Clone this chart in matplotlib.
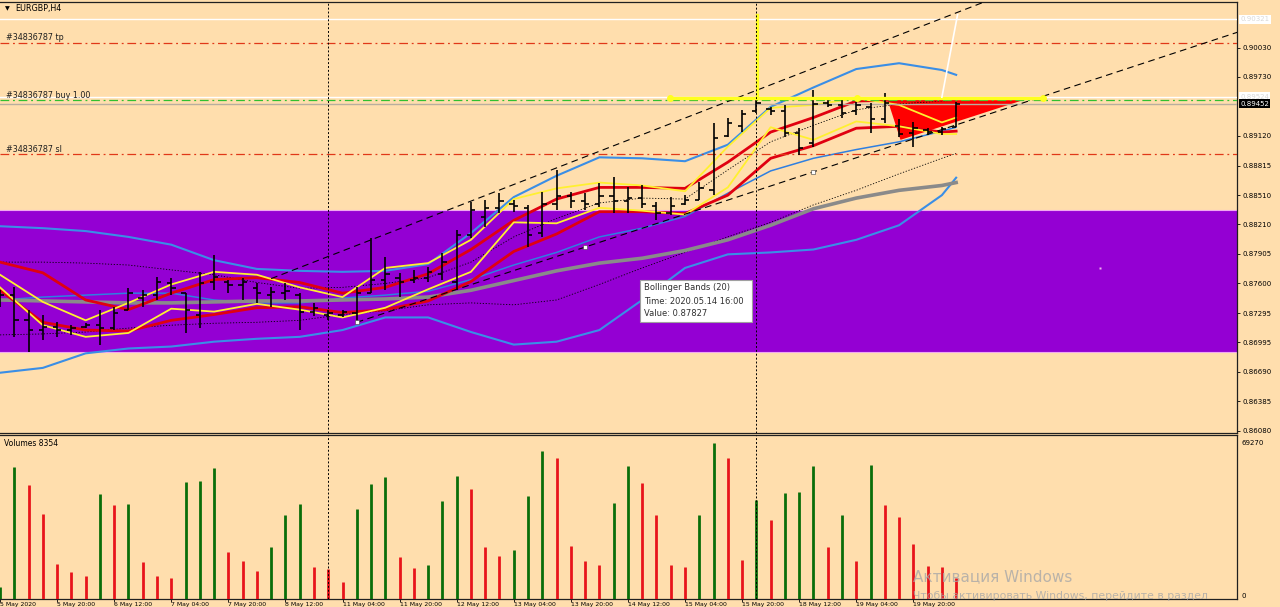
import matplotlib
matplotlib.use('Agg')
import numpy as np
import matplotlib.pyplot as plt
from matplotlib.patches import Rectangle, Polygon

W, H = 1280, 607
BG = '#FFDEAD'

# EURGBP H4, bar 0 = 5 May 2020 04:00
opens = [.8740, .8748, .8722, .8712, .8715, .8712, .8715, .8717, .8714, .8733,
         .8745, .8748, .8760, .8750, .8728, .8762, .8762, .8758, .8755, .8748,
         .8750, .8748, .8731, .8728, .8728, .8730, .8750, .8764, .8766, .8764,
         .8766, .8770, .8762, .8810, .8828, .8838, .8842, .8838, .8812, .8842,
         .8850, .8845, .8842, .8850, .8845, .8848, .8840, .8833, .8842, .8846,
         .8856, .8912, .8922, .8938, .8940, .8938, .8915, .8905, .8946, .8944,
         .8938, .8942, .8930, .8922, .8915, .8918, .8916, .8921]
highs = [.8753, .8756, .8733, .8728, .8720, .8717, .8719, .8733, .8736, .8755,
         .8753, .8767, .8766, .8750, .8772, .8789, .8764, .8766, .8761, .8756,
         .8761, .8750, .8740, .8733, .8733, .8756, .8807, .8787, .8771, .8774,
         .8777, .8791, .8815, .8844, .8846, .8853, .8846, .8841, .8854, .8877,
         .8854, .8853, .8864, .8870, .8859, .8861, .8844, .8849, .8851, .8865,
         .8925, .8931, .8939, .8951, .8942, .8944, .8920, .8959, .8951, .8949,
         .8947, .8946, .8956, .8930, .8926, .8920, .8921, .8947]
lows = [.8736, .8705, .8689, .8702, .8705, .8707, .8714, .8697, .8712, .8733,
        .8736, .8743, .8748, .8709, .8714, .8753, .8750, .8743, .8740, .8736,
        .8743, .8712, .8726, .8722, .8725, .8719, .8750, .8753, .8746, .8761,
        .8762, .8764, .8753, .8807, .8818, .8833, .8834, .8798, .8808, .8836,
        .8838, .8836, .8839, .8833, .8833, .8838, .8825, .8831, .8841, .8846,
        .8851, .8911, .8916, .8936, .8934, .8911, .8892, .8901, .8942, .8931,
        .8934, .8915, .8925, .8911, .8901, .8913, .8913, .8921]
closes = [.8748, .8722, .8712, .8715, .8712, .8714, .8717, .8714, .8730, .8750,
          .8748, .8762, .8755, .8733, .8760, .8767, .8758, .8762, .8750, .8751,
          .8752, .8731, .8735, .8730, .8731, .8750, .8764, .8770, .8762, .8766,
          .8772, .8782, .8810, .8836, .8838, .8845, .8840, .8810, .8842, .8850,
          .8845, .8842, .8850, .8845, .8848, .8842, .8833, .8840, .8846, .8858,
          .8910, .8925, .8935, .8946, .8938, .8915, .8900, .8945, .8944, .8936,
          .8944, .8930, .8946, .8914, .8920, .8916, .8919, .8945]
volumes = [5290, 58650, 50720, 37930, 15440, 11910, 10140, 46750, 41900, 42340,
           16320, 10140, 9260, 52040, 52480, 58210, 20730, 16760, 12350, 22930,
           37490, 42340, 14110, 13230, 7500, 40130, 51160, 54240, 18520, 13670,
           14990, 43660, 54680, 48950, 22930, 18960, 21610, 45860, 65710, 62620,
           23370, 16760, 14990, 42780, 59090, 51600, 37490, 14990, 14110, 37490,
           69270, 62620, 17200, 44100, 35280, 47190, 47630, 59090, 22930, 37490,
           16760, 59540, 41900, 36600, 24260, 14550, 14110, 9260]

tick_bars = list(range(0, 68, 4))
tick_labels = ['5 May 2020', '5 May 20:00', '6 May 12:00', '7 May 04:00',
               '7 May 20:00', '8 May 12:00', '11 May 04:00', '11 May 20:00',
               '12 May 12:00', '13 May 04:00', '13 May 20:00', '14 May 12:00',
               '15 May 04:00', '15 May 20:00', '18 May 12:00', '19 May 04:00',
               '19 May 20:00']
week_starts = [23, 53]

price_ticks = [0.90030, 0.89730, 0.89120, 0.88815, 0.88510, 0.88210, 0.87905,
               0.87600, 0.87295, 0.86995, 0.86690, 0.86385, 0.86080]

# indicator values, read every third bar
line_bars = list(range(0, 67, 3)) + [67]
bb_upper = [.8819, .8817, .8814, .8808, .8800, .8784, .8775, .8773, .8772, .8773, .8780, .8812,
            .8849, .8871, .8890, .8889, .8886, .8903, .8942, .8962, .8981, .8987, .8980, .8975]
bb_lower = [.8668, .8673, .8688, .8693, .8695, .8700, .8703, .8705, .8712, .8725, .8725, .8710,
            .8697, .8700, .8712, .8743, .8776, .8790, .8792, .8795, .8805, .8820, .8851, .8869]
bb_mid = [.8743, .8746, .8748, .8750, .8750, .8743, .8740, .8740, .8745, .8748, .8752, .8764,
          .8779, .8792, .8808, .8817, .8829, .8853, .8876, .8889, .8898, .8906, .8917, .8921]
ma_slow = [.8743, .8742, .8741, .8740, .8740, .8741, .8742, .8742, .8743, .8744, .8746, .8753,
           .8763, .8773, .8781, .8786, .8794, .8805, .8820, .8837, .8848, .8856, .8861, .8864]
red_hi = [.8782, .8771, .8743, .8733, .8750, .8764, .8766, .8761, .8750, .8756, .8770, .8795,
          .8825, .8847, .8859, .8859, .8858, .8885, .8916, .8931, .8948, .8949, .8949, .8949]
red_lo = [.8753, .8720, .8712, .8711, .8722, .8728, .8735, .8736, .8730, .8733, .8742, .8762,
          .8793, .8811, .8834, .8834, .8832, .8851, .8889, .8902, .8920, .8922, .8916, .8917]
yel_hi = [.8769, .8741, .8722, .8740, .8759, .8772, .8769, .8756, .8746, .8776, .8781, .8805,
          .8847, .8858, .8864, .8861, .8855, .8901, .8941, .8944, .8951, .8944, .8926, .8931]
yel_lo = [.8756, .8717, .8705, .8709, .8734, .8731, .8739, .8733, .8725, .8735, .8754, .8772,
          .8823, .8822, .8838, .8835, .8831, .8859, .8921, .8908, .8927, .8922, .8914, .8914]
env_hi = [.8782, .8782, .8781, .8779, .8774, .8769, .8761, .8755, .8756, .8760, .8766, .8782,
          .8808, .8827, .8843, .8848, .8847, .8877, .8906, .8923, .8939, .8945, .8948, .8949]
env_lo = [.8707, .8708, .8710, .8714, .8717, .8719, .8720, .8722, .8728, .8732, .8738, .8740,
          .8738, .8743, .8759, .8776, .8792, .8808, .8823, .8841, .8856, .8873, .8889, .8894]

# objects on the chart
zone_top, zone_bottom = 0.8836, 0.8689
trend_up = (19, 0.8765, 53, 0.8959)
trend_lo = (25, 0.8720, 57, 0.8875)
triangle = [(62.2, 0.8949), (63.1, 0.8908), (71.7, 0.8949)]
yellow_level, yellow_from, yellow_to = 0.8951, 46.95, 73.1
yellow_mark_bars = [46.95, 60.05, 73.1]
yellow_vert_bar, yellow_vert_top = 53.05, 0.9037
white_seg = [(66.0, 0.8952), (67.1, 0.9037)]
hline_top, tp_price, ask_line, buy_price, bid, sl_price = 0.90321, 0.90075, 0.89524, 0.89490, 0.89452, 0.88931

x_max = 86.68
p_top, p_bot = 0.90506, 0.86059
v_top = 72800

fig = plt.figure(figsize=(W / 100, H / 100), dpi=100, facecolor=BG)


def px_box(x0, y0, x1, y1):
    return [x0 / W, 1 - y1 / H, (x1 - x0) / W, (y1 - y0) / H]


ax = fig.add_axes(px_box(0, 1.5, 1237, 433))
axv = fig.add_axes(px_box(0, 435, 1237, 599))
for a in (ax, axv):
    a.set_facecolor(BG)
    a.set_xlim(0, x_max)
    a.spines['left'].set_visible(False)
    for s in ('top', 'right', 'bottom'):
        a.spines[s].set_linewidth(0.9)
        a.spines[s].set_color('#202020')
ax.set_ylim(p_bot, p_top)
axv.set_ylim(0, v_top)

# purple zone
ax.add_patch(Rectangle((-1, zone_bottom), x_max + 2, zone_top - zone_bottom,
                       facecolor='#9400D3', edgecolor='#F0A8F0', lw=0.8, zorder=1))
ax.add_patch(Polygon(triangle, closed=True, facecolor='#FF0000', edgecolor='none', zorder=2))

lb = np.array(line_bars)
ax.plot(lb, env_hi, color='black', lw=0.6, ls=(0, (1.5, 2)), zorder=3)
ax.plot(lb, env_lo, color='black', lw=0.6, ls=(0, (1.5, 2)), zorder=3)
ax.plot(lb, bb_upper, color='#3A8EE6', lw=1.5, zorder=3)
ax.plot(lb, bb_lower, color='#3A8EE6', lw=1.5, zorder=3)
ax.plot(lb, bb_mid, color='#2F7FE0', lw=1.1, zorder=3)
ax.plot(lb, ma_slow, color='#8A8A8A', lw=2.6, zorder=3)
ax.plot(lb, red_hi, color='#E00010', lw=2.0, zorder=4)
ax.plot(lb, red_lo, color='#E00010', lw=2.0, zorder=4)
ax.plot(lb, yel_hi, color='#FFF030', lw=1.3, zorder=4)
ax.plot(lb, yel_lo, color='#FFF030', lw=1.3, zorder=4)

# OHLC bars
idx = np.arange(len(opens))
ax.vlines(idx, lows, highs, color='black', lw=1.2, zorder=5)
ax.hlines(opens, idx - 0.3, idx, color='black', lw=1.2, zorder=5)
ax.hlines(closes, idx, idx + 0.3, color='black', lw=1.2, zorder=5)

# trend lines (rays to the right)
for b0, p0, b1, p1 in (trend_up, trend_lo):
    k = (p1 - p0) / (b1 - b0)
    ax.plot([b0, x_max + 1], [p0, p0 + k * (x_max + 1 - b0)], color='black', lw=0.8,
            ls=(0, (6, 4)), zorder=6)
b0, p0, b1, p1 = trend_lo
ax.plot([b0, (b0 + b1) / 2, b1], [p0, (p0 + p1) / 2, p1], ls='none', marker='s', ms=3,
        mfc='white', mec='#404040', mew=0.4, zorder=7)
ax.plot([77.1], [0.8776], ls='none', marker='s', ms=1.5, mfc='#F0B0F0', mec='none', zorder=7)

# horizontal levels
ax.axhline(hline_top, color='white', lw=1, zorder=4)
ax.axhline(tp_price, color='#E03818', lw=0.9, ls=(0, (7, 3, 1.5, 3)), zorder=4)
ax.axhline(ask_line, color='white', lw=1, zorder=4)
ax.axhline(buy_price, color='#30C030', lw=0.9, ls=(0, (7, 3, 1.5, 3)), zorder=4)
ax.axhline(bid, color='#B8AE9E', lw=1, zorder=4)
ax.axhline(sl_price, color='#E03818', lw=0.9, ls=(0, (7, 3, 1.5, 3)), zorder=4)

# yellow object and white segment
ax.plot([yellow_from, yellow_to], [yellow_level, yellow_level], color='#FFFF20', lw=2.4, zorder=6)
ax.plot([yellow_vert_bar, yellow_vert_bar], [yellow_level, yellow_vert_top], color='#FFFF20',
        lw=2.4, zorder=6)
ax.plot(yellow_mark_bars, [yellow_level] * len(yellow_mark_bars), ls='none', marker='o', ms=4,
        color='#FFFF20', zorder=6)
ax.plot(*zip(*white_seg), color='white', lw=1.2, zorder=6)

for b in week_starts:
    ax.axvline(b, color='black', lw=0.7, ls=(0, (2, 2)), zorder=6)
    axv.axvline(b, color='black', lw=0.7, ls=(0, (2, 2)), zorder=6)

# price axis
ax.yaxis.tick_right()
ax.set_yticks(price_ticks)
ax.set_yticklabels(['%.5f' % t for t in price_ticks])
ax.tick_params(axis='y', direction='out', length=2.5, width=0.6, pad=1.5, labelsize=5,
               colors='black')
ax.set_xticks([])
ytr = ax.get_yaxis_transform()
ax.text(1.0025, hline_top, '%.5f' % hline_top, transform=ytr, fontsize=5, color='#D8D8D8',
        va='center', ha='left', bbox=dict(boxstyle='square,pad=0.2', fc='white', ec='none'))
ax.text(1.0025, ask_line, '%.5f' % ask_line, transform=ytr, fontsize=5, color='#D8D8D8',
        va='center', ha='left', bbox=dict(boxstyle='square,pad=0.2', fc='white', ec='none'))
ax.text(1.0025, bid, '%.5f' % bid, transform=ytr, fontsize=5, color='white',
        va='center', ha='left', bbox=dict(boxstyle='square,pad=0.2', fc='black', ec='none'))

# volumes
vcol = ['#0A6E0A' if i == 0 or v > volumes[i - 1] else '#E8141A' for i, v in enumerate(volumes)]
axv.vlines(idx, 0, volumes, colors=vcol, lw=2.0, zorder=3)
axv.yaxis.tick_right()
axv.set_yticks([0, max(volumes)])
axv.set_yticklabels(['0', str(max(volumes))])
axv.tick_params(axis='y', length=0, pad=3, labelsize=5)
axv.get_yticklabels()[0].set_va('bottom')
axv.set_xticks(tick_bars)
axv.set_xticklabels(tick_labels)
axv.tick_params(axis='x', direction='out', length=2, width=0.6, pad=0.3, labelsize=4.4)
for lab in axv.get_xticklabels():
    lab.set_ha('left')

# texts
fig.text(5 / W, 1 - 9 / H, '\u25bc', fontsize=4.5, va='center', ha='left')
fig.text(15 / W, 1 - 9 / H, 'EURGBP,H4', fontsize=5.8, va='center', ha='left')
fig.text(6 / W, 1 - 38 / H, '#34836787 tp', fontsize=5.8, va='center', ha='left', color='#202020')
fig.text(6 / W, 1 - 96 / H, '#34836787 buy 1.00', fontsize=5.8, va='center', ha='left',
         color='#202020')
fig.text(6 / W, 1 - 149 / H, '#34836787 sl', fontsize=5.8, va='center', ha='left', color='#202020')
fig.text(4 / W, 1 - 443 / H, 'Volumes 8354', fontsize=5.5, va='center', ha='left')

# tooltip
fig.add_artist(Rectangle((640 / W, 1 - 322 / H), 112 / W, 42 / H, transform=fig.transFigure,
                         facecolor='white', edgecolor='#A0A0A0', lw=0.8, zorder=10))
for k, line in enumerate(['Bollinger Bands (20)', 'Time: 2020.05.14 16:00', 'Value: 0.87827']):
    fig.text(644 / W, 1 - (288 + 13 * k) / H, line, fontsize=6, color='#303030', va='center',
             ha='left', zorder=11)

# windows watermark
fig.text(913 / W, 1 - 577 / H, 'Активация Windows', fontsize=11, color='#A8A8A8', alpha=0.8,
         va='center', ha='left', zorder=12)
fig.text(913 / W, 1 - 596 / H, 'Чтобы активировать Windows, перейдите в раздел', fontsize=7.8,
         color='#A8A8A8', alpha=0.8, va='center', ha='left', zorder=12)

fig.savefig('out.png', dpi=100, facecolor=BG)
